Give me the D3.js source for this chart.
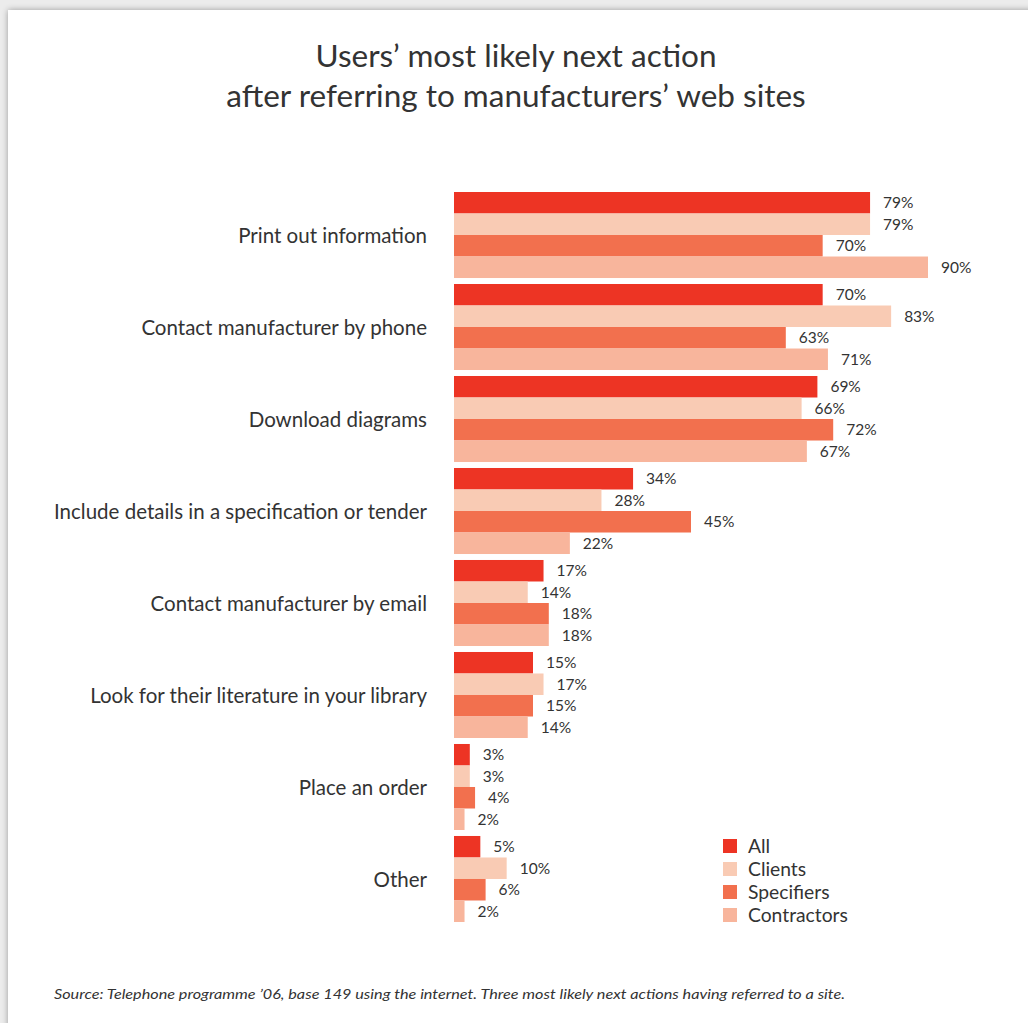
<!DOCTYPE html>
<html>
<head>
<meta charset="utf-8">
<script src="https://cdn.jsdelivr.net/npm/d3@7"></script>
<style>
  html, body { margin: 0; padding: 0; background: #ececec; }
  svg { display: block; }
</style>
</head>
<body>
<svg id="chart" width="1028" height="1023"></svg>
<script>
// Survey responses: share of users choosing each next action (percent)
const categories = [
  "Print out information",
  "Contact manufacturer by phone",
  "Download diagrams",
  "Include details in a specification or tender",
  "Contact manufacturer by email",
  "Look for their literature in your library",
  "Place an order",
  "Other"
];
const seriesNames = ["All", "Clients", "Specifiers", "Contractors"];
const allValues         = [79, 70, 69, 34, 17, 15, 3, 5];
const clientsValues     = [79, 83, 66, 28, 14, 17, 3, 10];
const specifiersValues  = [70, 63, 72, 45, 18, 15, 4, 6];
const contractorsValues = [90, 71, 67, 22, 18, 14, 2, 2];
const seriesColors = ["#ed3424", "#f9cbb4", "#f2704e", "#f8b59c"];

const titleLines = ["Users\u2019 most likely next action", "after referring to manufacturers\u2019 web sites"];
const sourceNote = "Source: Telephone programme \u201906, base 149 using the internet. Three most likely next actions having referred to a site.";

const seriesValues = [allValues, clientsValues, specifiersValues, contractorsValues];
const rows = categories.map((c, i) => ({
  category: c,
  values: seriesNames.map((s, j) => ({ series: s, value: seriesValues[j][i], idx: j }))
}));

const svg = d3.select("#chart");
const FONT = "Lato, 'Open Sans', sans-serif";
const TEXT = "#333333";

// page panel with soft shadow
const defs = svg.append("defs");
const f = defs.append("filter").attr("id", "shadow").attr("x", "-5%").attr("y", "-5%").attr("width", "110%").attr("height", "110%");
f.append("feGaussianBlur").attr("in", "SourceAlpha").attr("stdDeviation", 3);
f.append("feComponentTransfer").append("feFuncA").attr("type", "linear").attr("slope", 0.35);
const m = f.append("feMerge");
m.append("feMergeNode");
m.append("feMergeNode").attr("in", "SourceGraphic");

svg.append("rect").attr("width", 1028).attr("height", 1023).attr("fill", "#ececec");
svg.append("rect").attr("x", 8).attr("y", 10).attr("width", 1040).attr("height", 1040)
  .attr("fill", "#ffffff").attr("filter", "url(#shadow)");

// title
svg.append("g").selectAll("text").data(titleLines).join("text")
  .attr("x", 516).attr("y", (d, i) => 67 + i * 40)
  .attr("text-anchor", "middle")
  .attr("font-family", FONT).attr("font-size", 31.5).attr("fill", TEXT)
  .text(d => d);

// scales
const x = d3.scaleLinear().domain([0, 90]).range([454, 928]);
const y0 = d3.scaleBand().domain(categories).range([192, 922]).paddingInner(0.065).paddingOuter(0);
const y1 = d3.scaleBand().domain(seriesNames).range([0, y0.bandwidth()]).padding(0);
const color = d3.scaleOrdinal().domain(seriesNames).range(seriesColors);

const groups = svg.append("g").selectAll("g").data(rows).join("g")
  .attr("transform", d => `translate(0,${y0(d.category)})`);

groups.selectAll("rect").data(d => d.values).join("rect")
  .attr("x", x(0))
  .attr("y", d => y1(d.series))
  .attr("width", d => x(d.value) - x(0))
  .attr("height", y1.bandwidth())
  .attr("fill", d => color(d.series));

groups.selectAll("text.val").data(d => d.values).join("text")
  .attr("class", "val")
  .attr("x", d => x(d.value) + 13)
  .attr("y", d => y1(d.series) + y1.bandwidth() / 2)
  .attr("dy", "0.35em")
  .attr("font-family", FONT).attr("font-size", 15.5).attr("fill", TEXT)
  .text(d => d.value + "%");

// category labels
groups.append("text")
  .attr("x", 427)
  .attr("y", y0.bandwidth() / 2 + 1)
  .attr("dy", "0.35em")
  .attr("text-anchor", "end")
  .attr("font-family", FONT).attr("font-size", 20.5).attr("fill", TEXT)
  .text(d => d.category);

// legend
const legend = svg.append("g").attr("transform", "translate(723,839)");
const li = legend.selectAll("g").data(seriesNames).join("g")
  .attr("transform", (d, i) => `translate(0,${i * 23})`);
li.append("rect").attr("width", 14).attr("height", 14).attr("fill", d => color(d));
li.append("text").attr("x", 25).attr("y", 7).attr("dy", "0.35em")
  .attr("font-family", FONT).attr("font-size", 19.3).attr("fill", TEXT)
  .text(d => d);

// source note
svg.append("text")
  .attr("x", 54).attr("y", 999)
  .attr("font-family", FONT).attr("font-size", 14).attr("font-style", "italic")
  .attr("fill", TEXT)
  .attr("textLength", 791).attr("lengthAdjust", "spacingAndGlyphs")
  .text(sourceNote);
</script>
</body>
</html>
